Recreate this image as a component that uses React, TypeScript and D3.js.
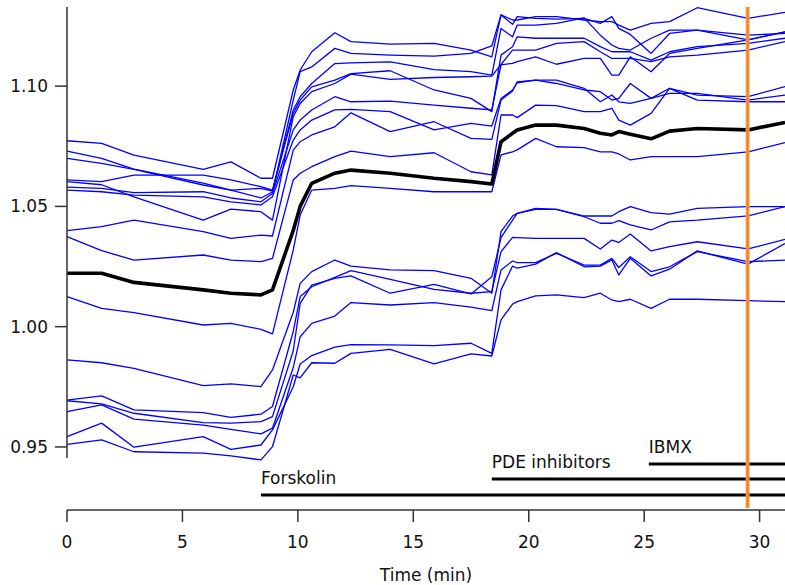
import React from "react";
import * as d3 from "d3";

// sample times (min)
const times = [0, 1.5, 2.9, 5.9, 7.1, 8.4, 8.9, 9.8, 10.1, 10.6, 11.6, 12.3, 14.0, 15.9, 17.5, 18.4, 18.8, 19.3, 19.5, 20.3, 21.2, 22.4, 23.1, 23.6, 23.9, 24.4, 25.3, 26.1, 27.3, 29.5, 31.1];

// individual cell traces
const trace1 = [1.0773, 1.0762, 1.0713, 1.0654, 1.0685, 1.0617, 1.0617, 1.0984, 1.1067, 1.1143, 1.1222, 1.1185, 1.1175, 1.1178, 1.115, 1.1122, 1.1296, 1.1257, 1.1289, 1.1282, 1.1279, 1.1282, 1.1261, 1.1289, 1.124, 1.1215, 1.1136, 1.1219, 1.1233, 1.1192, 1.1226];
const trace2 = [1.073, 1.07, 1.0655, 1.0597, 1.0568, 1.0535, 1.056, 1.0942, 1.106, 1.108, 1.1157, 1.1136, 1.1129, 1.1125, 1.1136, 1.1167, 1.1296, 1.1275, 1.1275, 1.1289, 1.1289, 1.1275, 1.1268, 1.1268, 1.1254, 1.1233, 1.1261, 1.1268, 1.1326, 1.1282, 1.1307];
const trace3 = [1.07, 1.0679, 1.0654, 1.0589, 1.0568, 1.0575, 1.0564, 1.0901, 1.0956, 1.1011, 1.1094, 1.1097, 1.1101, 1.1069, 1.106, 1.1046, 1.124, 1.1205, 1.1254, 1.1254, 1.1261, 1.1284, 1.1212, 1.1171, 1.1157, 1.115, 1.1199, 1.1233, 1.1233, 1.1212, 1.1219];
const trace4 = [1.061, 1.0603, 1.063, 1.063, 1.061, 1.0582, 1.0568, 1.0887, 1.0942, 1.0997, 1.1025, 1.1052, 1.1064, 1.0984, 1.0949, 1.0894, 1.1129, 1.1164, 1.1205, 1.1199, 1.1199, 1.1199, 1.1164, 1.1143, 1.1143, 1.1143, 1.1108, 1.1143, 1.1164, 1.1178, 1.1199];
const trace5 = [1.0603, 1.059, 1.054, 1.0443, 1.0489, 1.0478, 1.0443, 1.0873, 1.0928, 1.0977, 1.1011, 1.105, 1.1028, 1.1036, 1.1039, 1.1042, 1.109, 1.115, 1.115, 1.115, 1.1178, 1.1185, 1.1143, 1.1115, 1.1115, 1.1115, 1.1102, 1.1122, 1.1129, 1.115, 1.1185];
const trace6 = [1.058, 1.0575, 1.0557, 1.0561, 1.0535, 1.0519, 1.0554, 1.0818, 1.0859, 1.0901, 1.0956, 1.0935, 1.0938, 1.0921, 1.0908, 1.0901, 1.1088, 1.1095, 1.1102, 1.1122, 1.1091, 1.1115, 1.1115, 1.1046, 1.1046, 1.1122, 1.106, 1.1136, 1.1157, 1.1192, 1.1226];
const trace7 = [1.0568, 1.0561, 1.0547, 1.054, 1.0519, 1.0506, 1.054, 1.0776, 1.0818, 1.0859, 1.0901, 1.0903, 1.0894, 1.0818, 1.0845, 1.0834, 1.0949, 1.0984, 1.1014, 1.1025, 1.1011, 1.0984, 1.0977, 1.0942, 1.0949, 1.1011, 1.0949, 1.0991, 1.0963, 1.0956, 1.0998];
const trace8 = [1.0399, 1.0416, 1.0443, 1.0395, 1.0367, 1.0381, 1.0377, 1.0734, 1.0769, 1.0797, 1.0831, 1.0889, 1.0811, 1.0852, 1.0783, 1.0779, 1.0942, 1.098, 1.1018, 1.1025, 1.1025, 1.0991, 1.0935, 1.0963, 1.0935, 1.0928, 1.0949, 1.097, 1.097, 1.0942, 1.0963];
const trace9 = [1.0374, 1.0316, 1.0277, 1.0298, 1.0277, 1.027, 1.0284, 1.061, 1.0638, 1.0665, 1.0707, 1.073, 1.0707, 1.0723, 1.0644, 1.0631, 1.088, 1.088, 1.0869, 1.0921, 1.0919, 1.0894, 1.0894, 1.0908, 1.0859, 1.0838, 1.0887, 1.0991, 1.0942, 1.0935, 1.0935];
const trace10 = [1.0125, 1.0076, 1.0058, 1.0007, 1.0014, 0.9989, 0.997, 1.0319, 1.0464, 1.0568, 1.0575, 1.0586, 1.0575, 1.0561, 1.0561, 1.0561, 1.0714, 1.0727, 1.0735, 1.0783, 1.0748, 1.0744, 1.0727, 1.0727, 1.0718, 1.0693, 1.0707, 1.0707, 1.0707, 1.0727, 1.0765];
const trace11 = [0.9862, 0.985, 0.9827, 0.9755, 0.9762, 0.9751, 0.982, 1.006, 1.018, 1.0229, 1.0277, 1.0252, 1.0236, 1.0233, 1.0201, 1.0139, 1.0395, 1.046, 1.0471, 1.0492, 1.0488, 1.046, 1.046, 1.046, 1.0478, 1.0499, 1.0474, 1.0468, 1.0492, 1.0499, 1.0499];
const trace12 = [0.9695, 0.9712, 0.9654, 0.9643, 0.9623, 0.9636, 0.9668, 0.998, 1.0125, 1.0166, 1.0205, 1.0233, 1.0197, 1.0155, 1.0139, 1.0146, 1.0312, 1.0371, 1.037, 1.0367, 1.0367, 1.0367, 1.0323, 1.036, 1.035, 1.0385, 1.0315, 1.0333, 1.0353, 1.0323, 1.0363];
const trace13 = [0.9692, 0.9679, 0.964, 0.9601, 0.9599, 0.9605, 0.9626, 0.99, 1.0097, 1.0173, 1.0201, 1.0211, 1.0139, 1.0176, 1.0136, 1.0208, 1.037, 1.0443, 1.0471, 1.0488, 1.0488, 1.0457, 1.043, 1.043, 1.0441, 1.0423, 1.0402, 1.0436, 1.0443, 1.0461, 1.0499];
const trace14 = [0.9647, 0.9675, 0.9616, 0.9591, 0.9573, 0.9554, 0.9578, 0.983, 0.9958, 1.0014, 1.0044, 1.01, 1.009, 1.01, 1.0081, 1.0067, 1.0236, 1.0273, 1.0266, 1.0266, 1.0305, 1.0256, 1.0256, 1.0284, 1.0246, 1.0291, 1.0229, 1.0249, 1.0312, 1.027, 1.0277];
const trace15 = [0.9543, 0.9599, 0.9499, 0.9543, 0.949, 0.9508, 0.9571, 0.975, 0.9845, 0.988, 0.9915, 0.9925, 0.9924, 0.9921, 0.9931, 0.9889, 1.0153, 1.0252, 1.0243, 1.026, 1.0308, 1.0249, 1.0252, 1.0277, 1.0215, 1.0284, 1.0211, 1.0239, 1.0315, 1.026, 1.0346];
const trace16 = [0.9511, 0.9529, 0.948, 0.9474, 0.9463, 0.9446, 0.9501, 0.9799, 0.9787, 0.985, 0.9848, 0.9889, 0.9906, 0.9845, 0.9887, 0.9878, 1.0028, 1.0094, 1.0104, 1.0128, 1.0132, 1.0121, 1.0139, 1.0111, 1.0104, 1.0114, 1.0076, 1.0114, 1.0114, 1.0108, 1.0104];

// average trace
const meanTrace = [1.0222, 1.0222, 1.0184, 1.0153, 1.0139, 1.0132, 1.0153, 1.04, 1.05, 1.0596, 1.0638, 1.0651, 1.0638, 1.0617, 1.0603, 1.0593, 1.0769, 1.0804, 1.0818, 1.0838, 1.0838, 1.0824, 1.0804, 1.0797, 1.0811, 1.08, 1.0781, 1.0813, 1.0824, 1.0818, 1.0849];

const cellTraces = [trace1, trace2, trace3, trace4, trace5, trace6, trace7, trace8, trace9, trace10, trace11, trace12, trace13, trace14, trace15, trace16];

// drug application bars
const drugNames = ["Forskolin", "PDE inhibitors", "IBMX"];
const drugStarts = [8.4, 18.4, 25.2];

const markerTime = 29.48;
const xTicks = [0, 5, 10, 15, 20, 25, 30];
const yTicks = [0.95, 1.0, 1.05, 1.1];

const W = 785;
const H = 585;
const font = "'DejaVu Sans', sans-serif";

export default function App() {
  const x = d3.scaleLinear().domain([0, 31.1]).range([67, 785]);
  const y = d3.scaleLinear().domain([0.9454, 1.1329]).range([458, 7]);

  const line = d3
    .line<number>()
    .x((d, i) => x(times[i]))
    .y((d) => y(d));

  const axisY = 510; // time axis
  const barY = [495, 479, 464];

  return (
    <svg width={W} height={H} style={{ position: "absolute", left: 0, top: 0, background: "#fff" }}>
      {/* cell traces */}
      {cellTraces.map((t, i) => (
        <path key={i} d={line(t) || ""} fill="none" stroke="#0000ff" strokeWidth={1.3} strokeLinejoin="round" />
      ))}
      <path d={line(meanTrace) || ""} fill="none" stroke="#000" strokeWidth={3.6} strokeLinejoin="round" />

      {/* left axis */}
      <line x1={67} x2={67} y1={7} y2={458} stroke="#333" strokeWidth={1.5} />
      {yTicks.map((t) => (
        <g key={t}>
          <line x1={55} x2={67} y1={y(t)} y2={y(t)} stroke="#333" strokeWidth={1.5} />
          <text x={48} y={y(t)} dy="0.35em" textAnchor="end" fontFamily={font} fontSize={17} fill="#111">
            {d3.format(".2f")(t)}
          </text>
        </g>
      ))}

      {/* drug bars */}
      {drugNames.map((name, i) => (
        <g key={name}>
          <line x1={x(drugStarts[i])} x2={785} y1={barY[i]} y2={barY[i]} stroke="#000" strokeWidth={3} />
          <text x={x(drugStarts[i])} y={barY[i] - 11} fontFamily={font} fontSize={17} fill="#111">
            {name}
          </text>
        </g>
      ))}

      {/* marker */}
      <line x1={x(markerTime)} x2={x(markerTime)} y1={7} y2={508} stroke="#f5a050" strokeWidth={4} />
      <line x1={x(markerTime)} x2={x(markerTime)} y1={7} y2={508} stroke="#f08428" strokeWidth={2} />

      {/* time axis */}
      <line x1={67} x2={785} y1={axisY} y2={axisY} stroke="#333" strokeWidth={1.5} />
      {xTicks.map((t) => (
        <g key={t}>
          <line x1={x(t)} x2={x(t)} y1={axisY} y2={axisY + 12} stroke="#333" strokeWidth={1.5} />
          <text x={x(t)} y={548} textAnchor="middle" fontFamily={font} fontSize={17} fill="#111">
            {t}
          </text>
        </g>
      ))}
      <text x={426} y={581} textAnchor="middle" fontFamily={font} fontSize={17} fill="#111">
        Time (min)
      </text>
    </svg>
  );
}
